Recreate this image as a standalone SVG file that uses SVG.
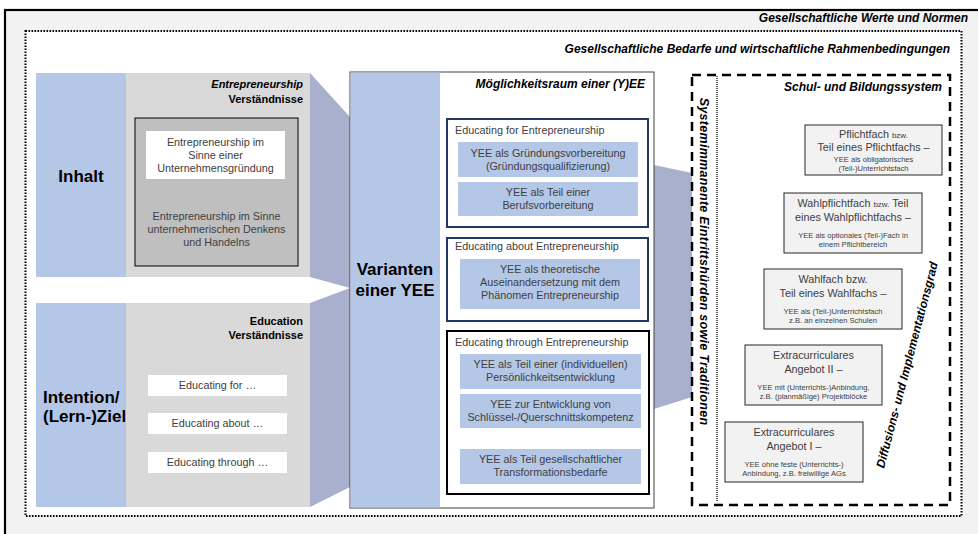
<svg xmlns="http://www.w3.org/2000/svg" width="978" height="534" viewBox="0 0 978 534">
  <style>
    text { font-family: "Liberation Sans", Arial, sans-serif; }
    .hd { font-weight: bold; font-style: italic; font-size: 12px; fill: #000; text-anchor: end; }
    .sub { font-weight: bold; font-size: 11px; fill: #000; text-anchor: end; }
    .big { font-weight: bold; font-size: 17px; fill: #000; }
    .tx { font-size: 10.8px; fill: #404040; text-anchor: middle; }
    .lb { font-size: 10.8px; fill: #404040; }
    .sm { font-size: 7.6px; fill: #404040; text-anchor: middle; }
    .mini { font-size: 8px; }
    .blue { fill: #b4c7e7; }
    .grey { fill: #d9d9d9; }
    .funnel { fill: #a8b0cd; }
    .white { fill: #ffffff; }
    .step { fill: #f2f2f2; stroke: #262626; stroke-width: 1; }
    .frame-navy { fill: #ffffff; stroke: #1f3864; stroke-width: 2; }
    .frame-black { fill: #ffffff; stroke: #000000; stroke-width: 2; }
    .arrow { fill: none; stroke: #000; stroke-width: 1.3; marker-end: url(#head); }
  </style>
  <defs>
    <marker id="head" viewBox="0 0 10 10" refX="9" refY="5" markerWidth="7" markerHeight="7" orient="auto" markerUnits="userSpaceOnUse">
      <path d="M0,0 L10,5 L0,10 Z" fill="#000"/>
    </marker>
  </defs>

  <!-- outer context: societal values and norms -->
  <g id="werte-normen">
    <rect x="5" y="10" width="1000" height="600" fill="#f2f2f2" stroke="#000" stroke-width="2.2"/>
    <text class="hd" x="968" y="22">Gesellschaftliche Werte und Normen</text>
  </g>

  <!-- societal needs and economic framework -->
  <g id="bedarfe">
    <rect x="25.5" y="31" width="936" height="485" fill="#ffffff" stroke="#000" stroke-width="2" stroke-dasharray="1.6 1.4"/>
    <text class="hd" x="950" y="53">Gesellschaftliche Bedarfe und wirtschaftliche Rahmenbedingungen</text>
  </g>

  <!-- funnel shapes linking the columns -->
  <g id="connectors">
    <polygon class="funnel" points="310,73 350,117 350,288 310,277"/>
    <polygon class="funnel" points="310,303 350,288 350,487 310,507"/>
    <polygon class="funnel" points="654,165 692,173 692,397 654,409"/>
    <line class="arrow" x1="725" y1="422" x2="806" y2="117"/>
    <line class="arrow" x1="863" y1="487" x2="943" y2="182"/>
  </g>

  <!-- content: entrepreneurship understandings -->
  <g id="inhalt">
    <rect class="blue" x="36" y="73" width="90" height="204"/>
    <rect class="grey" x="126" y="73" width="184" height="204"/>
    <text class="big" x="81" y="182" text-anchor="middle">Inhalt</text>
    <text class="sub" x="303" y="88" font-style="italic">Entrepreneurship</text>
    <text class="sub" x="303" y="103">Verständnisse</text>
    <rect x="135" y="118" width="163" height="148" fill="#bfbfbf" stroke="#000" stroke-width="1"/>
    <rect class="white" x="146" y="131" width="139" height="48"/>
    <text class="tx" x="215.5" y="146">Entrepreneurship im</text>
    <text class="tx" x="215.5" y="159">Sinne einer</text>
    <text class="tx" x="215.5" y="172">Unternehmensgründung</text>
    <text class="tx" x="216.5" y="220">Entrepreneurship im Sinne</text>
    <text class="tx" x="216.5" y="233">unternehmerischen Denkens</text>
    <text class="tx" x="216.5" y="246">und Handelns</text>
  </g>

  <!-- intention: education understandings -->
  <g id="intention">
    <rect class="blue" x="36" y="303" width="90" height="204"/>
    <rect class="grey" x="126" y="303" width="184" height="204"/>
    <text class="big" x="43" y="403">Intention/</text>
    <text class="big" x="43" y="422">(Lern-)Ziel</text>
    <text class="sub" x="303" y="325">Education</text>
    <text class="sub" x="303" y="339">Verständnisse</text>
    <rect class="white" x="148" y="375" width="139" height="21"/>
    <text class="tx" x="217.5" y="389">Educating for …</text>
    <rect class="white" x="148" y="413" width="139" height="21"/>
    <text class="tx" x="217.5" y="427">Educating about …</text>
    <rect class="white" x="148" y="452" width="139" height="21"/>
    <text class="tx" x="217.5" y="466">Educating through …</text>
  </g>

  <!-- variants of YEE / option space -->
  <g id="varianten">
    <rect x="350" y="72" width="304" height="436" fill="#ffffff" stroke="#404040" stroke-width="1"/>
    <rect class="blue" x="350.5" y="72.5" width="89.5" height="435"/>
    <text class="big" x="395" y="275" text-anchor="middle">Varianten</text>
    <text class="big" x="395" y="296" text-anchor="middle">einer YEE</text>
    <text class="hd" x="645" y="88">Möglichkeitsraum einer (Y)EE</text>
  </g>

  <g id="educating-for">
    <rect class="frame-navy" x="447" y="119" width="201" height="108"/>
    <text class="lb" x="455" y="134">Educating for Entrepreneurship</text>
    <rect class="blue" x="458" y="142" width="180" height="35"/>
    <text class="tx" x="548" y="157">YEE als Gründungsvorbereitung</text>
    <text class="tx" x="548" y="170">(Gründungsqualifizierung)</text>
    <rect class="blue" x="458" y="182" width="180" height="34"/>
    <text class="tx" x="548" y="196">YEE als Teil einer</text>
    <text class="tx" x="548" y="209">Berufsvorbereitung</text>
  </g>

  <g id="educating-about">
    <rect class="frame-navy" x="447" y="238" width="201" height="83"/>
    <text class="lb" x="455" y="250">Educating about Entrepreneurship</text>
    <rect class="blue" x="460" y="259" width="180" height="50"/>
    <text class="tx" x="550" y="273">YEE als theoretische</text>
    <text class="tx" x="550" y="286">Auseinandersetzung mit dem</text>
    <text class="tx" x="550" y="299">Phänomen Entrepreneurship</text>
  </g>

  <g id="educating-through">
    <rect class="frame-black" x="447" y="331" width="202" height="163"/>
    <text class="lb" x="455" y="346">Educating through Entrepreneurship</text>
    <rect class="blue" x="460" y="354" width="181" height="35"/>
    <text class="tx" x="550.5" y="368">YEE als Teil einer (individuellen)</text>
    <text class="tx" x="550.5" y="381">Persönlichkeitsentwicklung</text>
    <rect class="blue" x="460" y="394" width="181" height="34"/>
    <text class="tx" x="550.5" y="408">YEE zur Entwicklung von</text>
    <text class="tx" x="550.5" y="421">Schlüssel-/Querschnittskompetenz</text>
    <rect class="blue" x="460" y="449" width="181" height="35"/>
    <text class="tx" x="550.5" y="463">YEE als Teil gesellschaftlicher</text>
    <text class="tx" x="550.5" y="476">Transformationsbedarfe</text>
  </g>

  <!-- school and education system -->
  <g id="schulsystem">
    <rect x="692" y="75" width="258" height="430" fill="#ffffff" stroke="#000" stroke-width="2.5" stroke-dasharray="9 6"/>
    <line x1="717" y1="76" x2="717" y2="502" stroke="#000" stroke-width="1.3" stroke-dasharray="1 1"/>
    <text class="hd" x="942" y="91">Schul- und Bildungssystem</text>
    <text font-weight="bold" font-style="italic" font-size="12.5" letter-spacing="0.3" text-anchor="middle" transform="translate(700,261.5) rotate(90)">Systemimmanente Eintrittshürden sowie Traditionen</text>
    <text font-weight="bold" font-style="italic" font-size="12" text-anchor="middle" transform="translate(911,366) rotate(-75.3)">Diffusions- und Implementationsgrad</text>
  </g>

  <g id="pflichtfach">
    <rect class="step" x="805" y="125" width="137" height="50"/>
    <text class="tx" x="873.5" y="138">Pflichtfach <tspan class="mini">bzw.</tspan></text>
    <text class="tx" x="873.5" y="151">Teil eines Pflichtfachs –</text>
    <text class="sm" x="873.5" y="162">YEE als obligatorisches</text>
    <text class="sm" x="873.5" y="171">(Teil-)Unterrichtsfach</text>
  </g>

  <g id="wahlpflichtfach">
    <rect class="step" x="784" y="193" width="138" height="60"/>
    <text class="tx" x="853" y="207">Wahlpflichtfach <tspan class="mini">bzw.</tspan> Teil</text>
    <text class="tx" x="853" y="221">eines Wahlpflichtfachs –</text>
    <text class="sm" x="853" y="238">YEE als optionales (Teil-)Fach in</text>
    <text class="sm" x="853" y="247">einem Pflichtbereich</text>
  </g>

  <g id="wahlfach">
    <rect class="step" x="764" y="269" width="138" height="60"/>
    <text class="tx" x="833" y="283">Wahlfach bzw.</text>
    <text class="tx" x="833" y="297">Teil eines Wahlfachs –</text>
    <text class="sm" x="833" y="314">YEE als (Teil-)Unterrichtsfach</text>
    <text class="sm" x="833" y="323">z.B. an einzelnen Schulen</text>
  </g>

  <g id="extracurricular-2">
    <rect class="step" x="745" y="345" width="137" height="60"/>
    <text class="tx" x="813.5" y="359">Extracurriculares</text>
    <text class="tx" x="813.5" y="373">Angebot II –</text>
    <text class="sm" x="813.5" y="390">YEE mit (Unterrichts-)Anbindung,</text>
    <text class="sm" x="813.5" y="399">z.B. (planmäßige) Projektblöcke</text>
  </g>

  <g id="extracurricular-1">
    <rect class="step" x="725" y="422" width="138" height="60"/>
    <text class="tx" x="794" y="436">Extracurriculares</text>
    <text class="tx" x="794" y="450">Angebot I –</text>
    <text class="sm" x="794" y="467">YEE ohne feste (Unterrichts-)</text>
    <text class="sm" x="794" y="476">Anbindung, z.B. freiwillige AGs</text>
  </g>
</svg>
